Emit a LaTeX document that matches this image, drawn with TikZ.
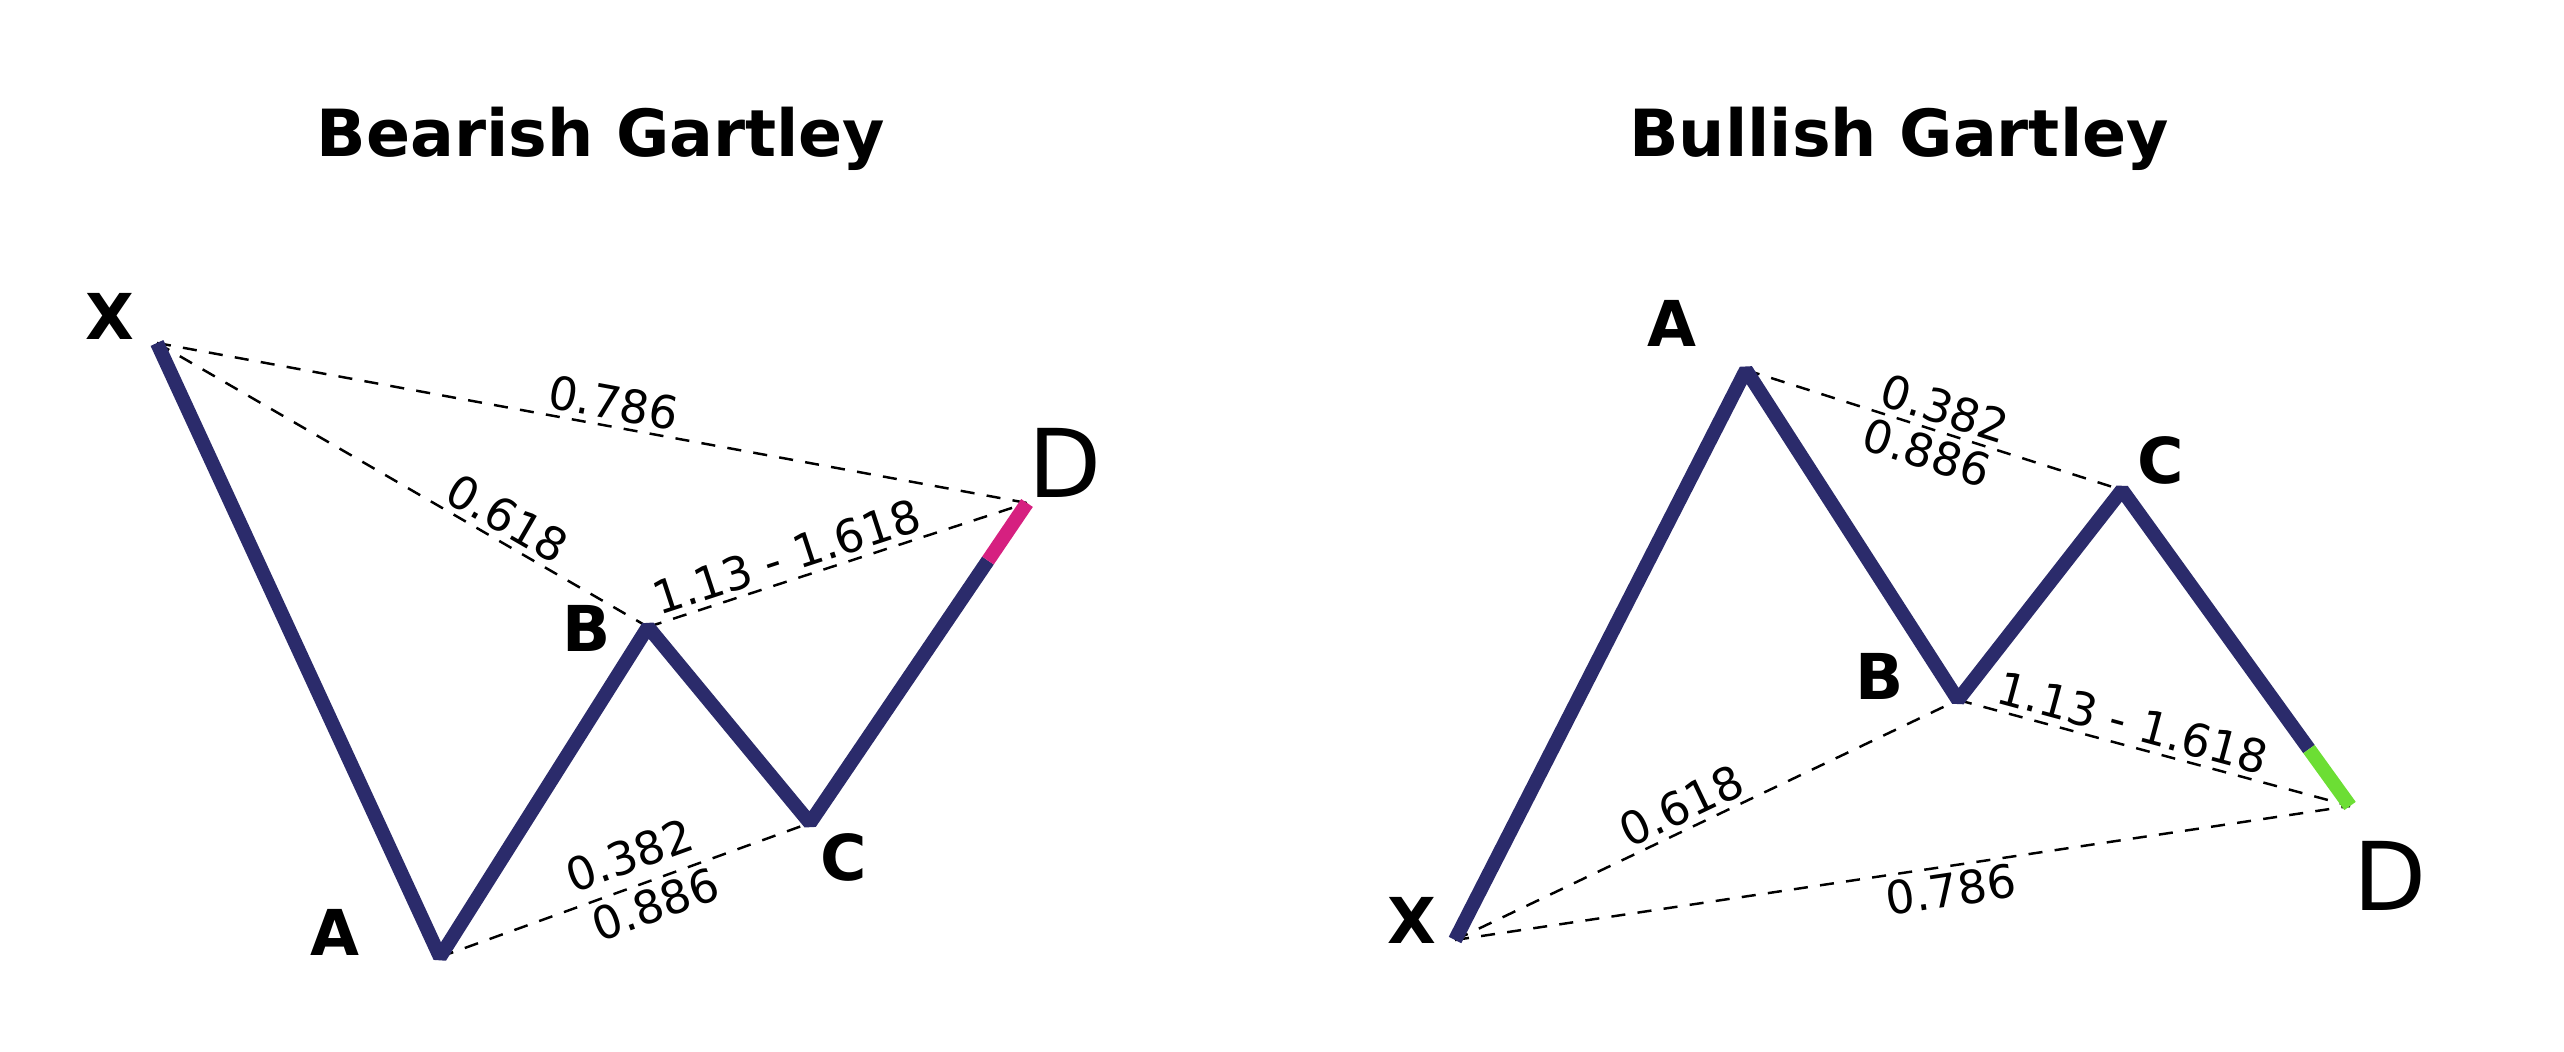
\documentclass[tikz,border=0pt]{standalone}
\usepackage{fontspec}
\setmainfont{DejaVu Sans}
\definecolor{wave}{RGB}{43,43,107}
\definecolor{bearD}{RGB}{214,32,128}
\definecolor{bullD}{RGB}{108,222,52}
\begin{document}
\begin{tikzpicture}[
  leg/.style={line width=4pt,wave,line join=bevel},
  ratio/.style={dash pattern=on 4pt off 3.5pt,line width=0.7pt},
  pt/.style={font=\fontsize{18}{18}\selectfont\bfseries},
  ptD/.style={font=\fontsize{27}{27}\selectfont},
  num/.style={font=\fontsize{13}{13}\selectfont,sloped,inner sep=1.5pt},
  ttl/.style={font=\fontsize{18.5}{20}\selectfont\bfseries,anchor=base}]
\useasboundingbox (0,0) rectangle (25.64,10.52);
%% bearish
\node[ttl] (ttlL) at (6.01,8.95) {Bearish Gartley};
\coordinate (lX) at (1.57,7.09);
\coordinate (lA) at (4.40,0.95);
\coordinate (lB) at (6.48,4.25);
\coordinate (lC) at (8.10,2.29);
\coordinate (lD) at (10.27,5.49);
\path (lC)--(lD) coordinate[pos=0.82](lE);
\draw[ratio] (lX)--(lD) node[num,above,pos=0.52](lxd){0.786};
\draw[ratio] (lX)--(lB) node[num,above,pos=0.69](lxb){0.618};
\draw[ratio] (lB)--(lD) node[num,above,pos=0.385](lbd){1.13 - 1.618};
\draw[ratio] (lA)--(lC) node[num,above=2pt,pos=0.54](lac){0.382} node[num,below,pos=0.56](lac2){0.886};
\draw[leg] (lX)--(lA)--(lB)--(lC)--(lE);
\draw[leg,bearD] (lE)--(lD);
\node[pt] (lXn) at (1.10,7.36) {X};
\node[pt] (lAn) at (3.35,1.20) {A};
\node[pt] (lBn) at (5.87,4.24) {B};
\node[pt] (lCn) at (8.44,1.95) {C};
\node[ptD] (lDn) at (10.65,5.89) {D};
%% bullish
\node[ttl] (ttlR) at (18.99,8.95) {Bullish Gartley};
\coordinate (rX) at (14.55,1.12);
\coordinate (rA) at (17.46,6.82);
\coordinate (rB) at (19.58,3.52);
\coordinate (rC) at (21.22,5.62);
\coordinate (rD) at (23.50,2.46);
\path (rC)--(rD) coordinate[pos=0.82](rE);
\draw[ratio] (rX)--(rD) node[num,below,pos=0.55](rxd){0.786};
\draw[ratio] (rX)--(rB) node[num,above,pos=0.47](rxb){0.618};
\draw[ratio] (rB)--(rD) node[num,above,pos=0.43](rbd){1.13 - 1.618};
\draw[ratio] (rA)--(rC) node[num,above,pos=0.51](rac){0.382} node[num,below,pos=0.50](rac2){0.886};
\draw[leg] (rX)--(rA)--(rB)--(rC)--(rE);
\draw[leg,bullD] (rE)--(rD);
\node[pt] (rXn) at (14.12,1.32) {X};
\node[pt] (rAn) at (16.72,7.29) {A};
\node[pt] (rBn) at (18.80,3.76) {B};
\node[pt] (rCn) at (21.61,5.92) {C};
\node[ptD] (rDn) at (23.90,1.76) {D};
\end{tikzpicture}
\end{document}
